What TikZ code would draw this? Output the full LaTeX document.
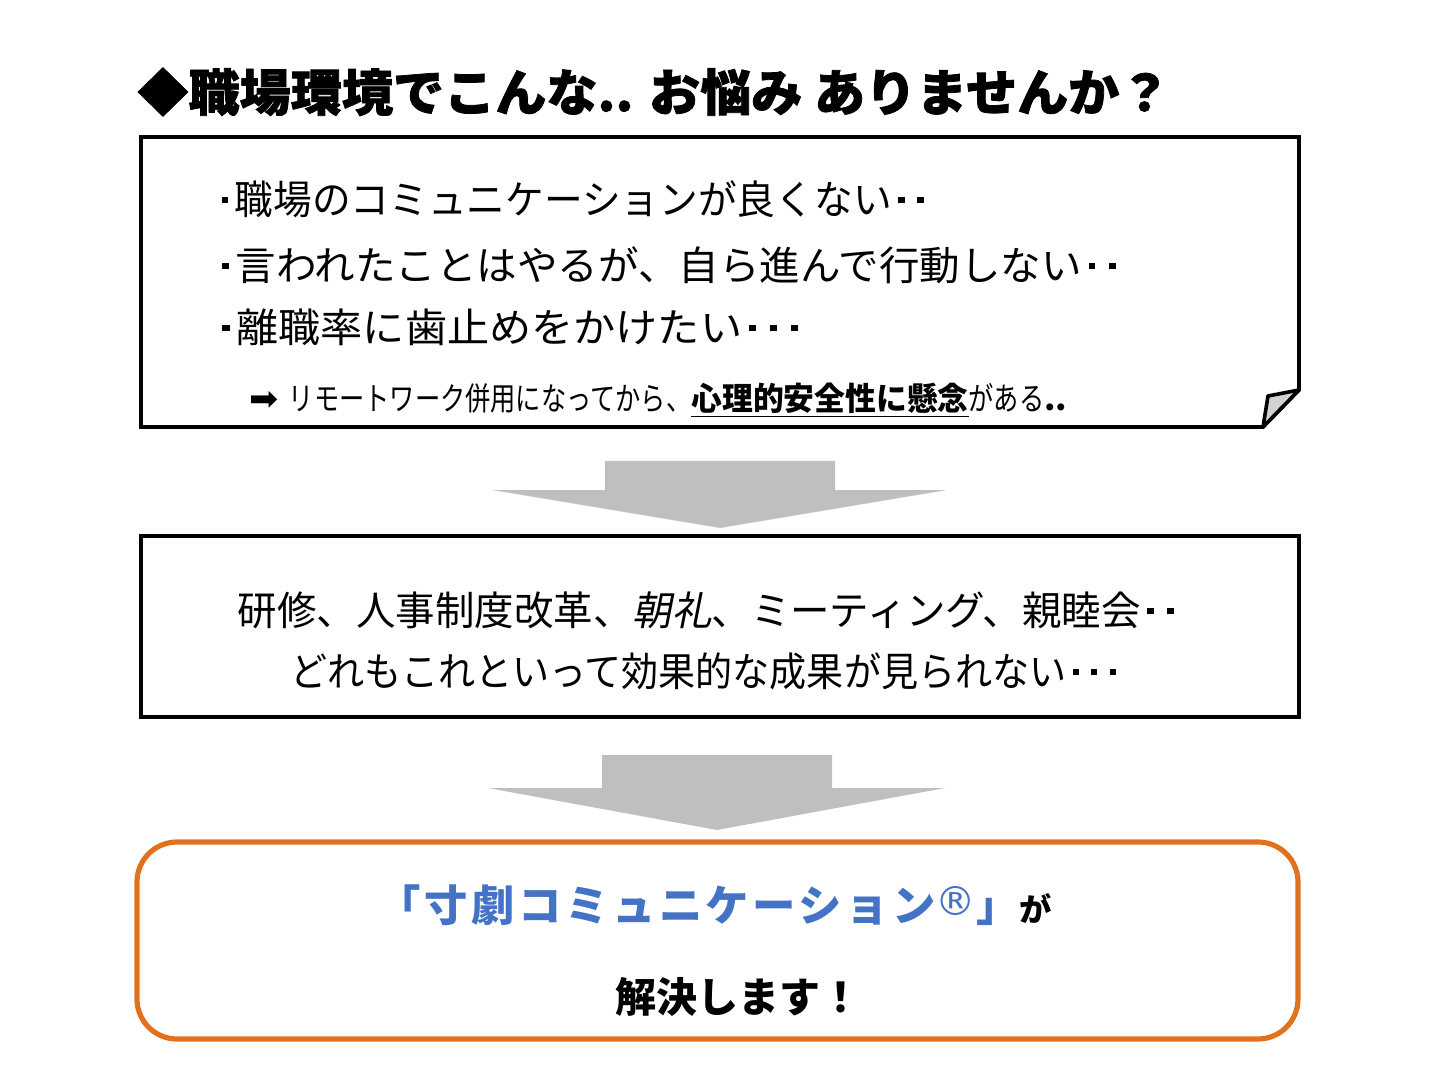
\documentclass[tikz,border=0pt]{standalone}
\usepackage{fontspec}
\usepackage{graphicx}
\setmainfont{Noto Sans CJK JP}
\newfontfamily\jp{Noto Sans CJK JP}
\newfontfamily\jph[BoldFeatures={FakeBold=1.5}]{Noto Sans CJK JP}
\newfontfamily\jpsl[FakeSlant=0.2]{Noto Sans CJK JP}
\newfontfamily\jpsp[LetterSpace=8]{Noto Sans CJK JP}
\newfontfamily\symfont{DejaVu Sans}
\definecolor{jblue}{HTML}{4472C4}
\definecolor{jorange}{HTML}{E2711D}
\definecolor{arrowgray}{HTML}{BFBFBF}
\newcommand{\dt}{\makebox[0.5em]{\rule[0.27em]{0.17em}{0.17em}}}
\begin{document}
\begin{tikzpicture}[x=0.5pt,y=-0.5pt,
  boxline/.style={line width=1.8pt, draw=black, line join=miter},
  bigarrow/.style={fill=arrowgray, draw=none},
  txt/.style={inner sep=0pt, anchor=west, font=\jp\fontsize{20pt}{24pt}\selectfont},
  ctxt/.style={inner sep=0pt, anchor=center, font=\jp\fontsize{20pt}{24pt}\selectfont}]
\useasboundingbox (0,0) rectangle (1440,1080);

% title
\node[inner sep=0pt, anchor=west, font=\jph\bfseries\fontsize{25pt}{28pt}\selectfont] (title) at (137,92)
  {\resizebox{516.5pt}{\height}{◆職場環境でこんな.. お悩み ありませんか？}};

% box 1 with folded corner
\coordinate (b1nw) at (141,137);
\coordinate (b1ne) at (1299,137);
\coordinate (b1f1) at (1299,390);
\coordinate (b1f2) at (1263,427);
\coordinate (b1sw) at (141,427);
\coordinate (b1fi) at (1268,396);
\draw[boxline] (b1nw) -- (b1ne) -- (b1f1) -- (b1f2) -- (b1sw) -- cycle;
\draw[boxline, fill=gray!35, line join=round] (b1f1) -- (b1fi) -- (b1f2) -- cycle;

\node[txt] (l1) at (215,199) {\resizebox{357.5pt}{\height}{\dt 職場のコミュニケーションが良くない\dt\dt}};
\node[txt] (l2) at (215,265) {\resizebox{453.5pt}{\height}{\dt 言われたことはやるが、自ら進んで行動しない\dt\dt}};
\node[txt] (l3) at (215,327) {\resizebox{295pt}{\height}{\dt 離職率に歯止めをかけたい\dt\dt\dt}};
\node[inner sep=0pt, anchor=west, font=\fontsize{16pt}{18pt}\selectfont] (l4) at (249,400)
  {\resizebox{409pt}{\height}{{\symfont\fontsize{17pt}{18pt}\selectfont ➡}\hspace{5pt}\scalebox{0.77}[1]{\jp リモートワーク併用になってから、}\underline{\scalebox{0.94}[1]{\jp\bfseries 心理的安全性に懸念}}\scalebox{0.77}[1]{\jp がある}{\jp\bfseries ..}}};

% arrow 1
\coordinate (a1t) at (720,528);
\fill[bigarrow] (605,461) -- (835,461) -- (835,490) -- (947,490) -- (a1t) -- (492,490) -- (605,490) -- cycle;

% box 2
\draw[boxline] (141,536) rectangle (1299,717);
\node[ctxt] (m1) at (709,610) {\resizebox{471pt}{\height}{研修、人事制度改革、{\jpsl 朝礼}、ミーティング、親睦会\dt\dt}};
\node[ctxt] (m2) at (706,671) {\resizebox{416pt}{\height}{どれもこれといって効果的な成果が見られない\dt\dt\dt}};

% arrow 2
\coordinate (a2t) at (717,830);
\fill[bigarrow] (602,755) -- (832,755) -- (832,788) -- (945,788) -- (a2t) -- (488,788) -- (602,788) -- cycle;

% box 3
\draw[draw=jorange, line width=2.6pt, rounded corners=20pt] (137,842) rectangle (1298,1039);
\node[inner sep=0pt, anchor=center] (s1) at (715,905)
  {\resizebox{337pt}{\height}{{\jpsp\bfseries\color{jblue}\fontsize{21.5pt}{24pt}\selectfont 「寸劇コミュニケーション{\symfont\mdseries\fontsize{20pt}{20pt}\selectfont\raisebox{3pt}{®}}」}{\jp\bfseries\fontsize{16pt}{18pt}\selectfont が}}};
\node[inner sep=0pt, anchor=center, font=\jp\bfseries\fontsize{20.5pt}{24pt}\selectfont] (s2) at (738,997) {\resizebox{123pt}{\height}{解決します！}};
\end{tikzpicture}
\end{document}
